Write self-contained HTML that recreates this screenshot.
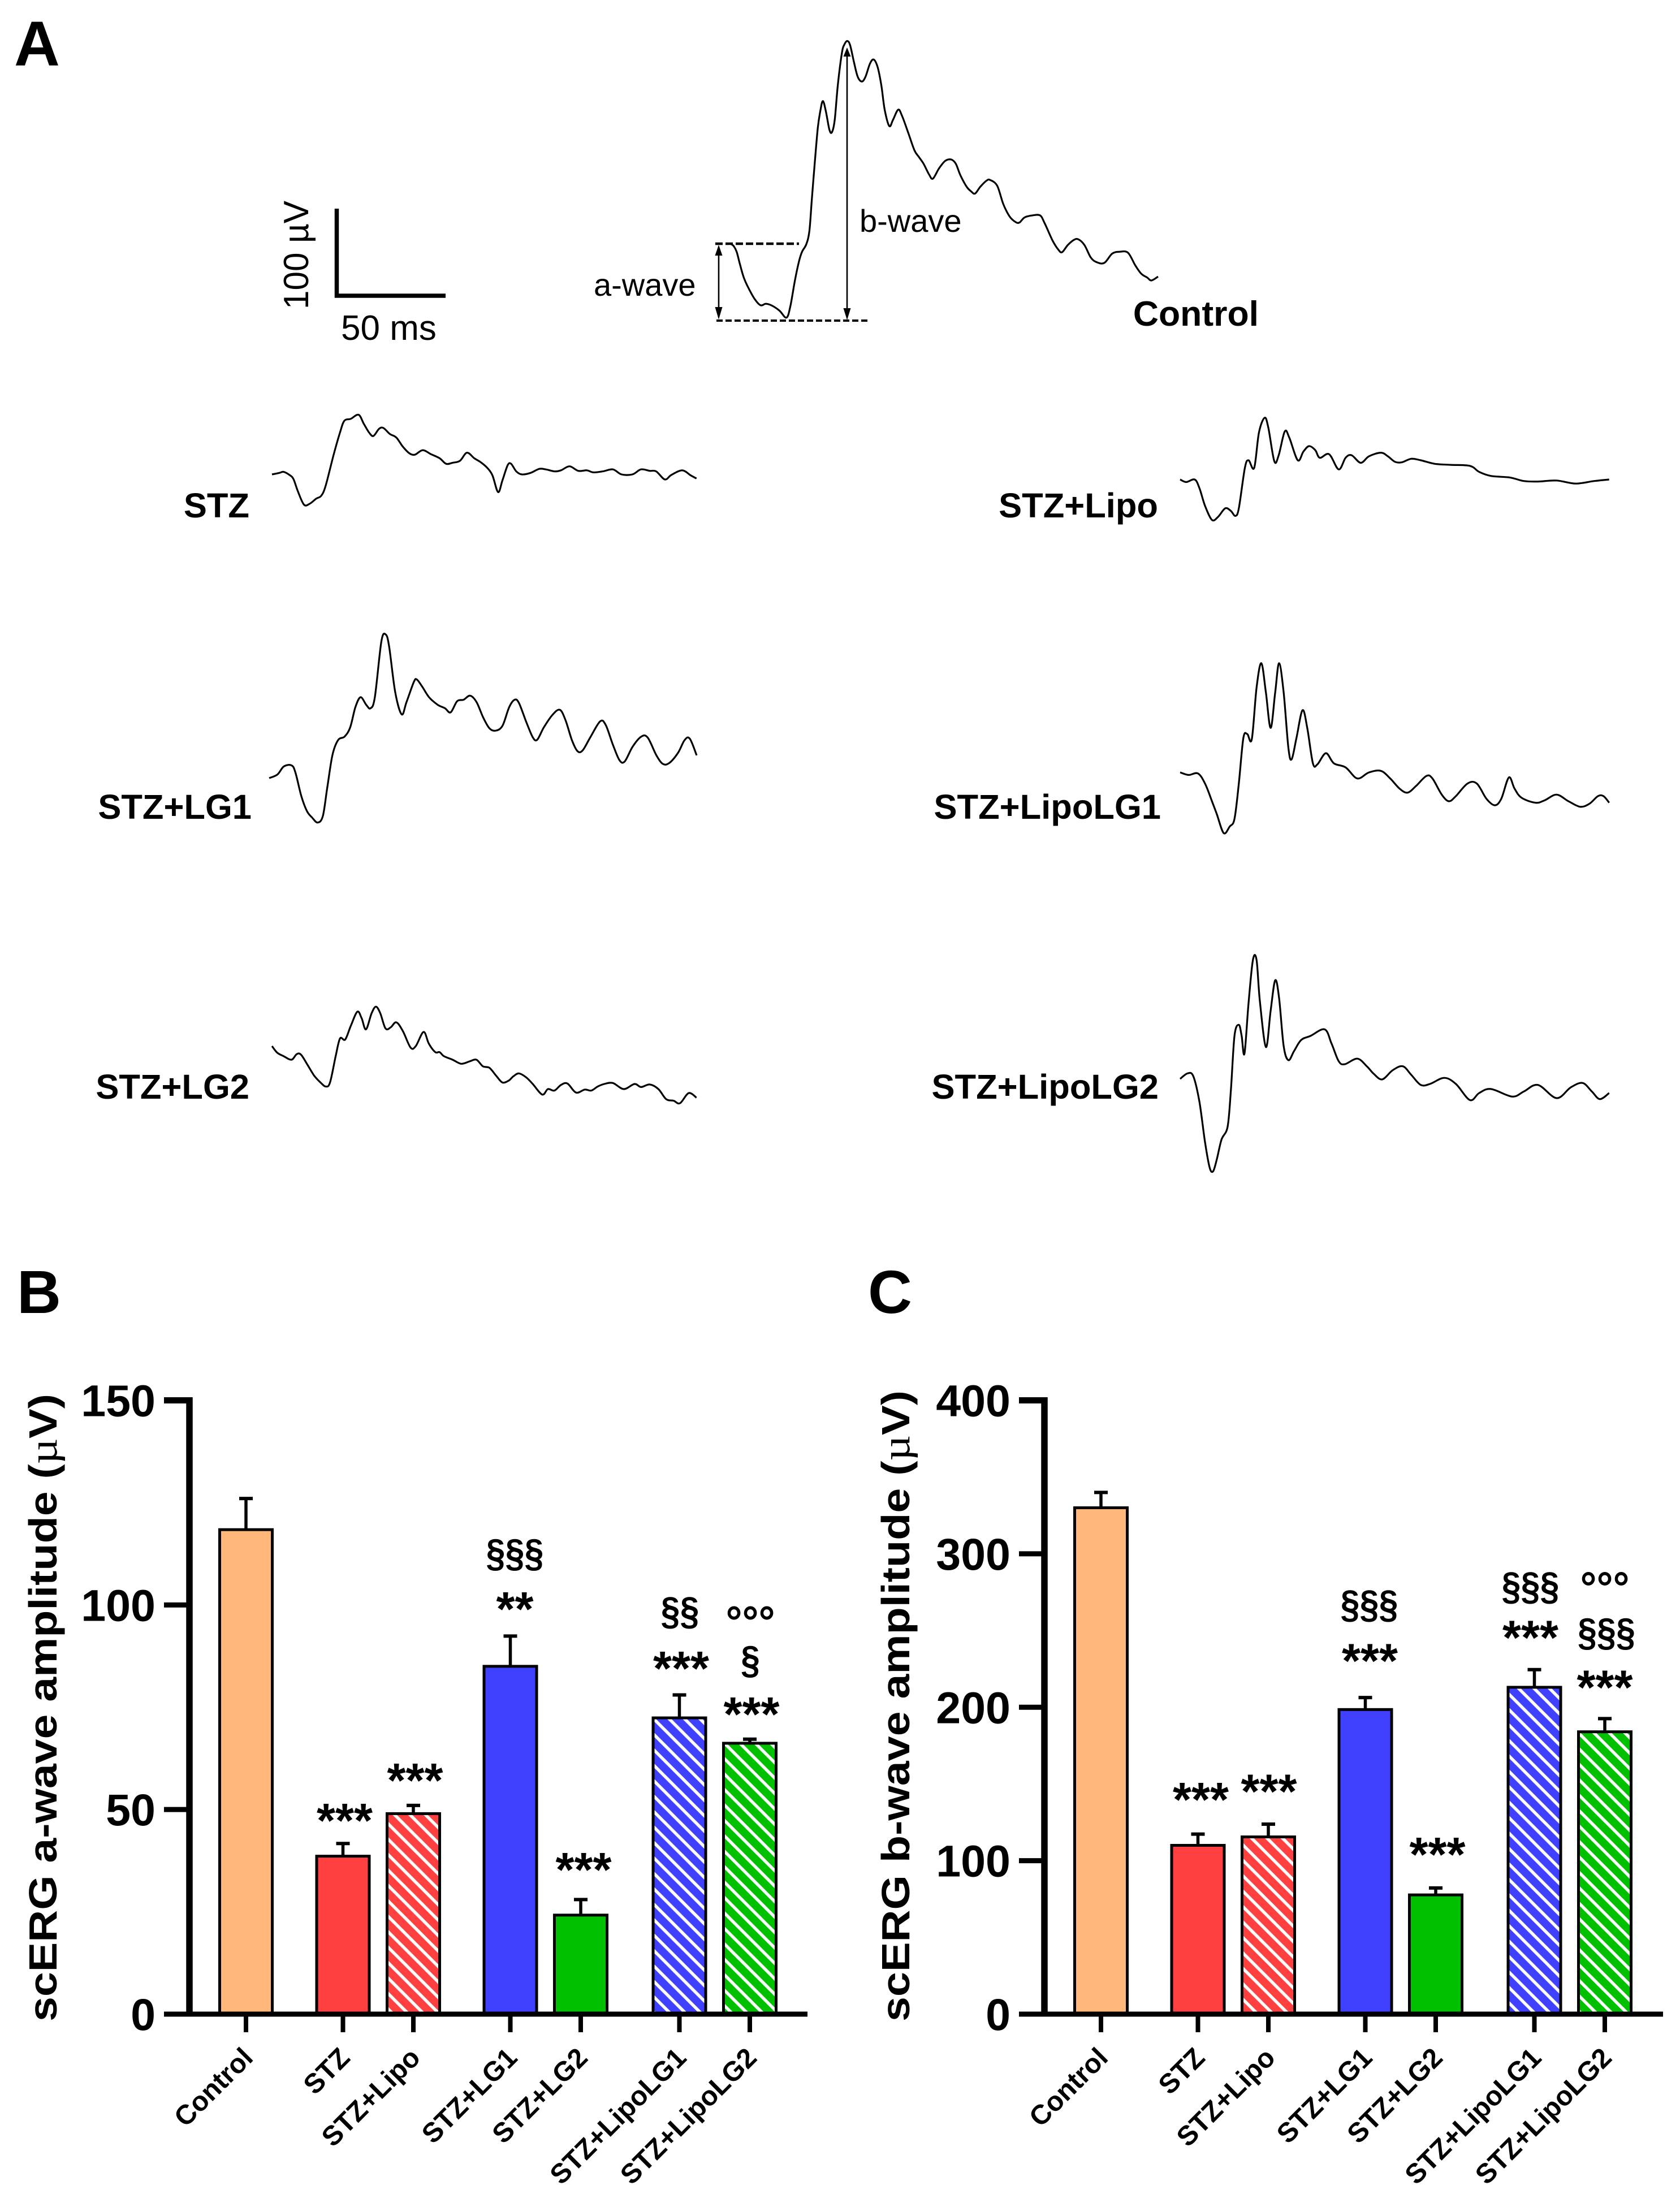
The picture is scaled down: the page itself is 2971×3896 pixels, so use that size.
<!DOCTYPE html>
<html lang="en">
<head>
<meta charset="utf-8">
<title>scERG traces and amplitudes</title>
<style>
html,body{margin:0;padding:0;background:#fff;}
svg{display:block;}
text{font-family:"Liberation Sans",sans-serif;fill:#000;}
.b{font-weight:bold;}
</style>
</head>
<body>
<svg id="fig" xmlns="http://www.w3.org/2000/svg" width="2971" height="3896" viewBox="0 0 2971 3896">
<defs>
<pattern id="hatch-red" patternUnits="userSpaceOnUse" width="27.3" height="27.3"><rect width="27.3" height="27.3" fill="#ff4040"/><path d="M-5,-5L32.3,32.3M-5,22.3L5,32.3M22.3,-5L32.3,5" stroke="#fff" stroke-width="5.5"/></pattern>
<pattern id="hatch-blue" patternUnits="userSpaceOnUse" width="27.3" height="27.3"><rect width="27.3" height="27.3" fill="#4040ff"/><path d="M-5,-5L32.3,32.3M-5,22.3L5,32.3M22.3,-5L32.3,5" stroke="#fff" stroke-width="5.5"/></pattern>
<pattern id="hatch-green" patternUnits="userSpaceOnUse" width="27.3" height="27.3"><rect width="27.3" height="27.3" fill="#00c000"/><path d="M-5,-5L32.3,32.3M-5,22.3L5,32.3M22.3,-5L32.3,5" stroke="#fff" stroke-width="5.5"/></pattern>
</defs>
<rect width="2971" height="3896" fill="#fff"/>

<text class="b" x="25" y="116" font-size="112">A</text>
<text class="b" x="30" y="2322" font-size="108">B</text>
<text class="b" x="1535" y="2322" font-size="108">C</text>

<g>
<path d="M595.5,369V523H788" fill="none" stroke="#000" stroke-width="7.5"/>
<text transform="translate(545,547) rotate(-90)" font-size="62" textLength="192" lengthAdjust="spacingAndGlyphs">100 µV</text>
<text x="603" y="601" font-size="62">50 ms</text>
</g>

<g>
<path d="M1265,431H1413" stroke="#000" stroke-width="4.5" stroke-dasharray="13,5" fill="none"/>
<path d="M1267,567H1535" stroke="#000" stroke-width="4" stroke-dasharray="11,5" fill="none"/>
<path d="M1271,440V560" stroke="#000" stroke-width="2.6"/>
<path d="M1271,433L1277.5,452H1264.5Z"/>
<path d="M1271,565L1277.5,543H1264.5Z"/>
<path d="M1498,90V560" stroke="#000" stroke-width="2.6"/>
<path d="M1498,84L1504.5,100H1491.5Z"/>
<path d="M1498,566L1504.5,545H1491.5Z"/>
<text x="1050" y="523" font-size="56">a-wave</text>
<text x="1520" y="410" font-size="56">b-wave</text>
</g>

<g id="traces"></g>

<text class="b" x="2226" y="576" font-size="62.5" text-anchor="end">Control</text>
<text class="b" x="441" y="915" font-size="61.5" text-anchor="end">STZ</text>
<text class="b" x="445" y="1448" font-size="61.5" text-anchor="end">STZ+LG1</text>
<text class="b" x="441" y="1943" font-size="61.5" text-anchor="end">STZ+LG2</text>
<text class="b" x="2048" y="915" font-size="61.5" text-anchor="end">STZ+Lipo</text>
<text class="b" x="2053" y="1448" font-size="61.5" text-anchor="end">STZ+LipoLG1</text>
<text class="b" x="2049" y="1943" font-size="61.5" text-anchor="end">STZ+LipoLG2</text>

<g id="chart-b"></g>
<g id="chart-c"></g>

<text class="b" transform="translate(100,3575) rotate(-90)" font-size="70" textLength="1110" lengthAdjust="spacingAndGlyphs">scERG a-wave amplitude (<tspan style="font-family:'Liberation Serif',serif" font-weight="normal">µ</tspan>V)</text>
<text class="b" transform="translate(1608,3575) rotate(-90)" font-size="70" textLength="1116" lengthAdjust="spacingAndGlyphs">scERG b-wave amplitude (<tspan style="font-family:'Liberation Serif',serif" font-weight="normal">µ</tspan>V)</text>
</svg>

<script>
// ---- bar chart data ----
const categories = ['Control','STZ','STZ+Lipo','STZ+LG1','STZ+LG2','STZ+LipoLG1','STZ+LipoLG2'];
const categoryGroups = [0,1,1,2,2,3,3];
const barFills = ['#ffb87a','#ff4040','url(#hatch-red)','#4040ff','#00c000','url(#hatch-blue)','url(#hatch-green)'];

const aWaveMeans = [118.4,38.6,49,85,24.2,72.4,66.2];
const aWaveErrors = [7.6,3.1,2,7.4,3.8,5.6,1];
const aWaveTicks = [0,50,100,150];
const aWaveMarkCats = [1,2,3,3,4,5,5,6,6,6];
const aWaveMarkVals = [48.9,58.7,111.9,100.6,36.9,97.8,86.1,98.5,85.8,74.9];
const aWaveMarkText = ['***','***','§§§','**','***','§§','***','°°°','§','***'];

const bWaveMeans = [330,110,115.5,198.5,77.7,213,184];
const bWaveErrors = [10,7.3,8.3,7.8,4.5,11.5,8.6];
const bWaveTicks = [0,100,200,300,400];
const bWaveMarkCats = [1,2,3,3,4,5,5,6,6,6];
const bWaveMarkVals = [144,149.5,265.2,234.6,108.3,277,249.7,285,246.8,217.3];
const bWaveMarkText = ['***','***','§§§','***','***','§§§','***','°°°','§§§','***'];

// ---- ERG trace data: time from sweep start (ms), amplitude from first sample (µV) ----
const controlTimes = [0,1.4,2.8,4.2,6.1,8.5,11.3,13.9,16.3,19.1,22.6,25.8,27.6,29.7,31.6,33,35,36.4,37.5,38.9,40.3,41.5,42.6,43.9,45.6,46.8,48.1,49.5,51.4,52.6,53.9,55.2,57,58.7,60.6,62.3,64.4,66.1,67.9,69.6,71.2,73.3,75,77.4,79.2,82.1,84.9,87,89.1,91.6,93.4,96.2,99.1,101.9,104,106.1,109,111.1,112.9,115.3,118.2,119.9,123.1,125.9,128.8,131.6,133.4,135.8,139.4,142.9,145,148.6,151.4,153.1,155.7,158.5,160.6,163.4,166.3,169.1,172.6,176.2,179.7,183.5,186.8,189.6,192.4,194.3,197.4];
const controlAmps = [0,-2.7,-9.5,-23.2,-40.2,-53.8,-66.3,-73.1,-71.3,-73.5,-79.5,-87.8,-74.2,-43.6,-20.9,-9.5,-0.5,15.4,51.8,97.2,138,158.4,169.3,158.4,135.7,132.3,147.1,188,226.5,236.8,240.6,235.6,215.2,198.2,192.5,198.2,214,218.6,209.5,188,158.4,139.6,147.1,159.1,151.6,131.2,110.8,102.8,94.9,82.4,77.2,89.2,98.3,99.9,94.9,81.3,67.6,62,59.5,67.6,74.9,75.6,68.8,47.2,32.5,25.7,25.2,31.3,33.6,33.6,24.5,4.1,-7.3,-10,-1.6,4.5,5.2,-1.6,-16.3,-22,-22.7,-11.8,-9.5,-10.7,-25.4,-35.6,-40.2,-43.6,-39];

const stzTimes = [0,3.4,5.4,8.4,10,12,14.8,17.4,20.4,22.8,24.8,28.4,31.4,33.4,36.4,40,42.4,44.8,46.8,49.4,51.4,54.4,57.4,60.4,63.4,66,69.6,73.4,77.4,80.4,83.4,86.8,90,93.4,96.4,99.4,101.8,104.4,106.4,108.8,110.4,112.8,115.4,119.4,123.4,126.4,130.4,133.4,137.4,141.4,145.4,148.4,152.8,157.4,161.4,166.4,170.4,174.4,177.4,181.4,184.4,189.4,193.4,196];
const stzAmps = [0,1.8,3,-1.2,-6,-20.4,-36,-34.8,-28.8,-25.2,-13.2,22.8,49.8,63.6,66,70.8,60,49.8,45.6,54,55.2,48,43.8,33,25.2,23.4,28.8,24,19.2,12.6,13.8,16.2,25.8,19.2,14.4,7.8,-1.2,-21,-7.2,10.8,12.6,3.6,0,1.8,6.6,6,3.6,4.8,9.6,4.2,4.8,2.4,3.6,6,0,0,6,4.2,3.6,-6,-0.6,4.8,-1.2,-4.8];

const lg1Times = [0,3.8,6.8,10.4,12.2,14.8,17.4,19.8,22.4,24.8,26.8,29.2,31.8,34.8,37.4,39.8,42.2,44.8,46.8,48.8,51.8,53.8,55.4,58.2,61.2,63.4,66.8,68.2,70.8,73.8,77.8,81.2,83.8,86.8,89.8,92.8,95.8,98.8,101.8,104.8,107.8,110.8,113.4,115.4,118.8,121.8,123.8,126.8,130.8,134.2,136.8,139.8,142.4,144.8,148.2,152.8,155.4,158.8,161.8,164.2,167.8,171.8,174.8,178.8,181.8,184.8,188.8,191.8,194.2,197.4];
const lg1Amps = [0,4.2,13.8,15,6,-21,-39,-46.8,-52.8,-45,-12,27,45,49.2,60,84,96,87,82.8,96,162,170.4,156,102,75.6,90,114,117,108,96,87,82.8,78,91.2,93,97.8,90,72,58.8,56.4,62.4,84,93,88.8,66,48,45.6,60,75,81,69,45,31.8,33,48,67.2,63,39,21,19.8,37.2,49.2,48,27,16.8,18,30,45,46.8,27];

const lg2Times = [0,2.4,5.4,9,11.4,13.4,16.4,19.4,22.4,24.8,26.8,29.4,31.4,33.8,36.4,39.4,41.4,43.4,46,48,50,52.4,54.8,57.4,60.4,64,66.4,70,72.4,75.4,77.4,79.4,83.4,87.4,91.4,94.4,97.4,100.4,103.4,106.4,109.4,111.4,114,117.4,120.4,124.8,127.4,130.4,133.4,136.4,140.4,144.4,147.4,150.4,153.4,157.4,162.4,167.4,170.4,174.4,178.4,182,185.4,188.4,192.4,196];
const lg2Amps = [0,-7.8,-12,-16.2,-9.6,-10.2,-22.2,-34.8,-43.2,-48,-43.2,-12,9,7.8,24,40.8,33,19.8,39,46.8,39,21,22.2,28.2,18,-1.8,0,16.8,3,-7.2,-7.2,-12,-16.2,-21,-18,-16.2,-24,-25.8,-34.8,-43.2,-40.8,-36,-32.4,-37.2,-45,-57.6,-51,-52.8,-46.2,-44.4,-55.2,-51.6,-52.8,-48,-45,-43.8,-51,-45,-48.6,-45.6,-51,-63,-64.8,-67.8,-55.8,-61.2];

const lipoTimes = [0,2.8,6.7,8.9,11.5,14.7,17.5,20.8,23.4,25.5,27.1,29.9,31.6,34.2,36.4,39,40.7,43.5,45.5,48.3,50.4,54.3,56.9,59.5,62.4,64.5,68.8,73.2,76.4,79.2,83.4,87.2,92.7,95.9,99.2,102.4,106.7,111.1,117.6,125.1,133.8,138.1,143.5,152.2,158.7,165.2,173.8,182.5,191.2,198.1];
const lipoAmps = [0,-3,0,-10.2,-31.2,-48,-44.4,-34.2,-37.2,-43.2,-34.2,13.8,22.8,13.8,55.8,73.2,61.8,21.6,28.8,57,49.8,22.8,33,39.6,34.8,25.8,30,12,25.8,28.8,19.8,27.6,31.8,27.6,21,20.4,24.6,22.8,18.6,17.4,16.2,9,4.2,2.4,-1.8,-2.4,-1.2,-4.8,-1.8,0];

const lipoLg1Times = [0,3.9,8.2,11.5,14.7,16.9,20.1,22.9,25.1,27.1,29.2,31,33.1,35.3,37.5,39.6,41.8,43.9,45.7,47.8,50,51.5,53.7,56.5,58.7,61.3,63.4,67.3,71,76.4,81.8,87.2,92.7,97,101.3,105,108.9,113.7,116.5,120.8,124.1,127.3,132.7,137,141.4,145.3,148.3,151.8,154.4,157.6,164.1,168.4,173.8,179.3,184.7,189,192.9,195.5,198.1];
const lipoLg1Amps = [0,-3,-1.2,-13.2,-34.2,-49.2,-72,-64.2,-55.2,-13.2,40.8,45.6,39.6,100.8,129.6,94.8,52.8,94.8,129.6,94.8,28.8,15.6,40.8,73.8,52.8,10.8,9.6,22.8,10.8,6,-7.2,0,1.8,-7.2,-19.2,-24,-16.2,-4.2,-7.2,-26.4,-34.2,-28.2,-13.2,-13.2,-31.2,-39,-31.2,-6,-19.2,-30,-36,-33,-26.4,-34.2,-40.8,-37.2,-28.2,-28.2,-36];

const lipoLg2Times = [0,3.5,6.1,8.9,11.5,13.6,15.2,16.9,19.1,21.9,23.4,25.1,27.1,28.4,29.7,31.6,33.6,35.3,36.8,39.6,41.8,43.9,45.7,47.8,50,52.6,55.9,60.2,66.7,69.9,73.2,76,81.8,86.2,89.4,93.3,98.1,102.8,106.7,111.1,115.4,121.9,127.3,133.8,138.1,143.5,153.3,158.7,165.2,173.8,180.3,185.8,190.1,193.8,198.1];
const lipoLg2Amps = [0,6.6,3,-27,-75,-105,-109.8,-96,-72,-57,-15,51,64.2,51,30,90,141,141,93,37.8,81,117,96,39,22.2,33,46.2,51,58.8,42,21,17.4,24,15,6,-0.6,10.2,15,4.8,-7.2,-6,1.2,-6,-25.2,-16.8,-12,-21,-15,-7.2,-22.8,-10.2,-4.8,-15,-24,-16.8];

// ---- drawing ----
const NS = 'http://www.w3.org/2000/svg';
function mk(parent, tag, attrs, txt) {
  const el = document.createElementNS(NS, tag);
  for (const k in attrs) el.setAttribute(k, attrs[k]);
  if (txt !== undefined) el.textContent = txt;
  parent.appendChild(el);
  return el;
}
function slug(s) {
  return s.toLowerCase().replace(/\+/g, '-');
}

const PX_PER_MS = 3.83;
const PX_PER_UV = 1.49;
function smoothPath(pts) {
  let d = 'M' + pts[0][0].toFixed(1) + ',' + pts[0][1].toFixed(1);
  for (let i = 0; i < pts.length - 1; i++) {
    const p0 = pts[Math.max(i - 1, 0)], p1 = pts[i], p2 = pts[i + 1], p3 = pts[Math.min(i + 2, pts.length - 1)];
    const c1x = p1[0] + (p2[0] - p0[0]) / 6, c1y = p1[1] + (p2[1] - p0[1]) / 6;
    const c2x = p2[0] - (p3[0] - p1[0]) / 6, c2y = p2[1] - (p3[1] - p1[1]) / 6;
    d += 'C' + c1x.toFixed(1) + ',' + c1y.toFixed(1) + ' ' + c2x.toFixed(1) + ',' + c2y.toFixed(1) + ' ' + p2[0].toFixed(1) + ',' + p2[1].toFixed(1);
  }
  return d;
}
function drawTrace(name, times, amps, x0, y0) {
  const xOf = t => x0 + t * PX_PER_MS;
  const yOf = v => y0 - v * PX_PER_UV;
  const pts = times.map((t, i) => [xOf(t), yOf(amps[i])]);
  const el = mk(document.getElementById('traces'), 'path', {d: smoothPath(pts), fill: 'none', stroke: '#000', 'stroke-width': 3.2, 'stroke-linejoin': 'round'});
  
  
}
drawTrace('control', controlTimes, controlAmps, 1292, 431);
drawTrace('stz', stzTimes, stzAmps, 481, 839);
drawTrace('stz-lg1', lg1Times, lg1Amps, 476, 1376);
drawTrace('stz-lg2', lg2Times, lg2Amps, 481, 1850);
drawTrace('stz-lipo', lipoTimes, lipoAmps, 2087, 848);
drawTrace('stz-lipolg1', lipoLg1Times, lipoLg1Amps, 2087, 1366);
drawTrace('stz-lipolg2', lipoLg2Times, lipoLg2Amps, 2087, 1908);

const MARK_STYLE = {
  '*': {size: 85, rise: 41, pitch: 33},
  '§': {size: 70, rise: 18, pitch: 34},
  '°': {size: 78, rise: 46, pitch: 29}
};
const GROUP_OFFSET = {0: 0, 1: 47, 2: 94, 3: 144};
function drawBarChart(rootId, cfg) {
  const root = document.getElementById(rootId);
  const Y0 = 3562, YTOP = 2476.5;
  const yOf = v => Y0 - v * (Y0 - YTOP) / cfg.yMax;
  const xOf = i => cfg.x0 + i * 124.5 + GROUP_OFFSET[categoryGroups[i]];

  // bars and error bars
  categories.forEach((cat, i) => {
    const cx = xOf(i), top = yOf(cfg.means[i]), errTop = yOf(cfg.means[i] + cfg.errors[i]);
    const stem = mk(root, 'path', {d: 'M' + cx + ',' + top + 'V' + errTop, stroke: '#000', 'stroke-width': 5.5, fill: 'none'});
    
    
    const cap = mk(root, 'path', {d: 'M' + (cx - 12) + ',' + errTop + 'H' + (cx + 12), stroke: '#000', 'stroke-width': 6, fill: 'none'});
    
    
    const bar = mk(root, 'rect', {x: cx - 46.5, y: top, width: 93, height: Y0 - top, fill: barFills[i], stroke: '#000', 'stroke-width': 5});
    
    
  });

  // y axis
  const yAxis = mk(root, 'path', {d: 'M' + cfg.axisX + ',' + (YTOP - 5.5) + 'V' + (Y0 + 4), stroke: '#000', 'stroke-width': 11.5, fill: 'none'});
  
  
  cfg.ticks.forEach(v => {
    const tick = mk(root, 'path', {d: 'M' + (cfg.axisX - 45) + ',' + yOf(v) + 'H' + cfg.axisX, stroke: '#000', 'stroke-width': v === cfg.yMax ? 11 : 9, fill: 'none'});
    
    
    const lab = mk(root, 'text', {x: cfg.axisX - 60, y: yOf(v) + 28, 'font-size': 79, 'font-weight': 'bold', 'text-anchor': 'end'}, String(v));
    
    
  });

  // x axis
  const xAxis = mk(root, 'path', {d: 'M' + (cfg.axisX - 45) + ',' + Y0 + 'H' + cfg.axisEnd, stroke: '#000', 'stroke-width': 9, fill: 'none'});
  
  
  categories.forEach((cat, i) => {
    const cx = xOf(i);
    const tick = mk(root, 'path', {d: 'M' + cx + ',' + Y0 + 'V3594', stroke: '#000', 'stroke-width': 8, fill: 'none'});
    
    
    const lab = mk(root, 'text', {transform: 'translate(' + (cx + 15) + ',3642) rotate(-45)', 'font-size': 48.5, 'font-weight': 'bold', 'text-anchor': 'end'}, cat);
    
    
  });

  // significance marks
  cfg.markText.forEach((txt, i) => {
    const st = MARK_STYLE[txt[0]];
    const el = mk(root, 'text', {x: xOf(cfg.markCats[i]) + cfg.markNudge[i], y: yOf(cfg.markVals[i]) + st.rise, 'font-size': st.size, 'font-weight': 'bold', 'text-anchor': 'middle', textLength: txt.length * st.pitch, lengthAdjust: 'spacingAndGlyphs'}, txt);
    
    
  });
}
drawBarChart('chart-b', {x0: 435, axisX: 335, axisEnd: 1428, yMax: 150, ticks: aWaveTicks, means: aWaveMeans, errors: aWaveErrors, markCats: aWaveMarkCats, markVals: aWaveMarkVals, markText: aWaveMarkText, markNudge: [3,3,8,8,5,1,3,1,1,3]});
drawBarChart('chart-c', {x0: 1947, axisX: 1847, axisEnd: 2941, yMax: 400, ticks: bWaveTicks, means: bWaveMeans, errors: bWaveErrors, markCats: bWaveMarkCats, markVals: bWaveMarkVals, markText: bWaveMarkText, markNudge: [5,1,7,8,3,-7,-7,0,3,0]});
</script>
</body>
</html>
